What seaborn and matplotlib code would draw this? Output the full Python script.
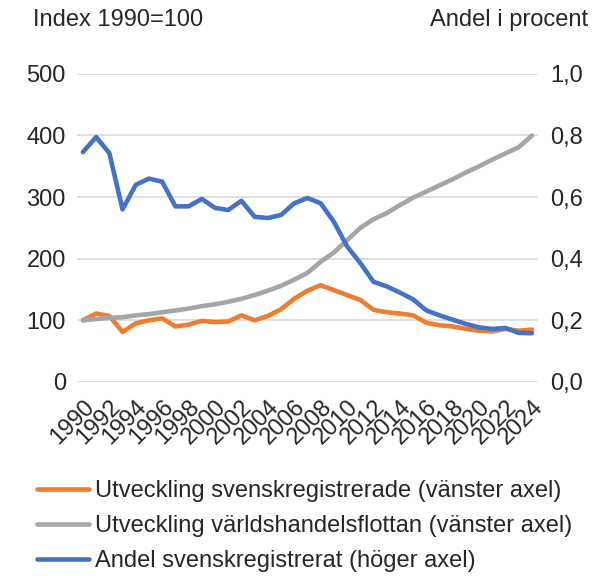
import numpy as np
import pandas as pd
import matplotlib
matplotlib.use("Agg")
import matplotlib.pyplot as plt
import seaborn as sns

# ---------------------------
# Data
# ---------------------------
years = list(range(1990, 2025))

# Index 1990=100, left axis
svenskregistrerade = [100, 111, 107, 81, 95, 100, 103, 90, 93, 99,
                      97, 98, 108, 100, 107, 118, 135, 148, 157, 149,
                      141, 133, 117, 113, 111, 108, 96, 92, 90, 86,
                      83, 82, 86, 83, 85]
varldshandelsflottan = [100, 102, 104, 105, 108, 110, 113, 116, 119, 123,
                        126, 130, 135, 141, 148, 156, 166, 177, 195, 210,
                        230, 250, 264, 274, 287, 299, 309, 319, 329, 340,
                        350, 361, 371, 381, 400]

# Share in percent, right axis
andel = [0.746, 0.795, 0.743, 0.56, 0.64, 0.66, 0.65, 0.57, 0.57, 0.594,
         0.565, 0.558, 0.588, 0.536, 0.532, 0.542, 0.58, 0.597, 0.58, 0.52,
         0.44, 0.386, 0.325, 0.31, 0.29, 0.268, 0.232, 0.216, 0.202, 0.188,
         0.177, 0.172, 0.175, 0.159, 0.158]

labels = ["Utveckling svenskregistrerade (vänster axel)",
          "Utveckling världshandelsflottan (vänster axel)",
          "Andel svenskregistrerat (höger axel)"]
colors = ["#ED7D31", "#A5A5A5", "#4472C4"]

left_ticks = [0, 100, 200, 300, 400, 500]
right_ticks = [0.0, 0.2, 0.4, 0.6, 0.8, 1.0]
right_ticklabels = ["0,0", "0,2", "0,4", "0,6", "0,8", "1,0"]
year_ticks = list(range(1990, 2025, 2))

df = pd.DataFrame({"year": years,
                   "sv": svenskregistrerade,
                   "world": varldshandelsflottan,
                   "andel": andel})

# ---------------------------
# Plot
# ---------------------------
sns.set_theme(style="white")
plt.rcParams["font.family"] = ["Liberation Sans", "DejaVu Sans"]
fs = 17

fig = plt.figure(figsize=(5.94, 5.76), dpi=100)
ax = fig.add_axes([0.1296, 0.337, 0.776, 0.5347])
ax2 = ax.twinx()

lw = 3.3
sns.lineplot(data=df, x="year", y="sv", ax=ax, color=colors[0], linewidth=lw, label=labels[0], legend=False)
sns.lineplot(data=df, x="year", y="world", ax=ax, color=colors[1], linewidth=lw, label=labels[1], legend=False)
sns.lineplot(data=df, x="year", y="andel", ax=ax2, color=colors[2], linewidth=lw, label=labels[2], legend=False)

ax.set_xlim(1990 - 0.45, 2024 + 0.45)
ax.set_ylim(0, 500)
ax2.set_ylim(0, 1.0)

ax.set_yticks(left_ticks)
ax.set_yticklabels([str(t) for t in left_ticks], fontsize=fs)
ax2.set_yticks(right_ticks)
ax2.set_yticklabels(right_ticklabels, fontsize=fs)
ax.set_xticks(year_ticks)
ax.set_xticklabels([str(y) for y in year_ticks], fontsize=fs, rotation=45,
                   ha="right", rotation_mode="anchor")

ax.grid(axis="y", color="#D9D9D9", linewidth=1.2)
ax.set_axisbelow(True)
ax.tick_params(axis="y", length=0, pad=8, colors="#262626")
ax.tick_params(axis="x", length=0, pad=10, colors="#262626")
ax2.tick_params(axis="both", length=0, pad=9, colors="#262626")
ax.set_xlabel("")
ax.set_ylabel("")
ax2.set_ylabel("")
for a in (ax, ax2):
    for s in a.spines.values():
        s.set_visible(False)

fig.text(33 / 594, 1 - 20 / 576, "Index 1990=100", fontsize=fs, va="center", ha="left", color="#262626")
fig.text(588 / 594, 1 - 20 / 576, "Andel i procent", fontsize=fs, va="center", ha="right", color="#262626")

handles = ax.get_lines()[:2] + ax2.get_lines()[:1]
fig.legend(handles, labels, loc="upper left", bbox_to_anchor=(37 / 594, 1 - 480 / 576),
           frameon=False, fontsize=fs, handlelength=2.2, handletextpad=0.25,
           labelspacing=0.55, borderpad=0, borderaxespad=0, labelcolor="#262626")

fig.savefig("out.png", dpi=100)
